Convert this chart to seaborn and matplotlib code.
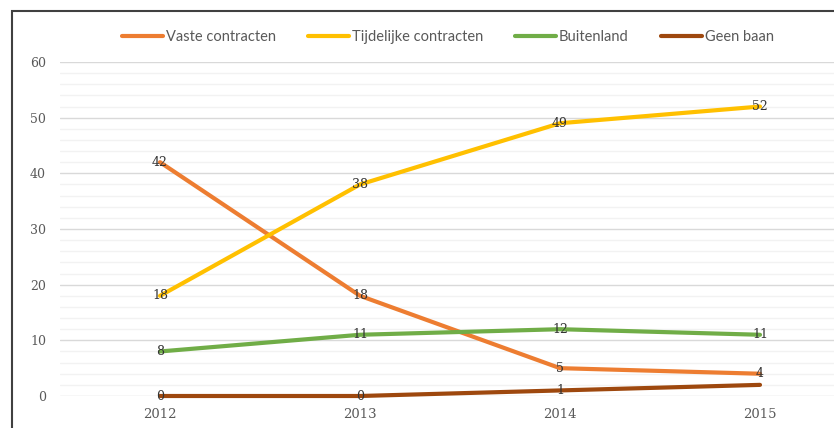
import matplotlib
matplotlib.use("Agg")
import matplotlib.pyplot as plt
import seaborn as sns
import pandas as pd
from matplotlib.patches import Rectangle

# Survey results per year (share of graduates, %)
years = ["2012", "2013", "2014", "2015"]
series_names = ["Vaste contracten", "Tijdelijke contracten", "Buitenland", "Geen baan"]
vaste = [42, 18, 5, 4]
tijdelijk = [18, 38, 49, 52]
buitenland = [8, 11, 12, 11]
geen_baan = [0, 0, 1, 2]
y_ticks = [0, 10, 20, 30, 40, 50, 60]

colors = ["#ED7D31", "#FFC000", "#70AD47", "#9E480E"]

# Which points carry a value label (the last "Geen baan" label sits under the "4")
show_label = [
    [True, True, True, True],
    [True, True, True, True],
    [True, True, True, True],
    [True, True, True, False],
]

sns.set_style("white")
plt.rcParams["font.family"] = ["Lato", "DejaVu Sans"]

series_values = [vaste, tijdelijk, buitenland, geen_baan]
rows = []
for name, vals in zip(series_names, series_values):
    for yr, v in zip(years, vals):
        rows.append({"jaar": yr, "waarde": v, "reeks": name})
df = pd.DataFrame(rows)

fig = plt.figure(figsize=(8.34, 4.28), dpi=100)
ax = fig.add_axes([60 / 834, 32 / 428, 800 / 834, 334 / 428])

sns.lineplot(data=df, x="jaar", y="waarde", hue="reeks", hue_order=series_names,
             palette=colors, linewidth=3, ax=ax, legend=True, sort=False)
for ln in ax.lines:
    ln.set_clip_on(False)
    ln.set_solid_capstyle("round")

# Value labels on each point
serif = ["DejaVu Serif"]
for vals, flags in zip(series_values, show_label):
    for i, (v, on) in enumerate(zip(vals, flags)):
        if on:
            ax.text(i, v, str(v), ha="center", va="center", fontsize=9,
                    color="#333333", family=serif, zorder=5)

ax.set_xlim(-0.5, 3.5)
ax.set_ylim(0, 60)
ax.set_yticks(y_ticks)
ax.set_yticks(range(0, 61, 2), minor=True)
ax.grid(which="major", axis="y", color="#d9d9d9", linewidth=1)
ax.grid(which="minor", axis="y", color="#f2f2f2", linewidth=1)
ax.grid(axis="x", visible=False)
ax.set_axisbelow(True)
ax.tick_params(axis="both", which="both", length=0)
ax.tick_params(axis="y", pad=10, labelsize=9, labelcolor="#595959")
ax.tick_params(axis="x", pad=9, labelsize=9.5, labelcolor="#595959")
for lab in ax.get_xticklabels() + ax.get_yticklabels():
    lab.set_family(serif)
ax.set_xlabel("")
ax.set_ylabel("")
for s in ax.spines.values():
    s.set_visible(False)

handles, labels = ax.get_legend_handles_labels()
ax.legend_.remove()
fig.legend(handles, labels, loc="center", bbox_to_anchor=(448 / 834, 1 - 37 / 428),
           ncol=4, frameon=False, fontsize=10.5, handlelength=2.8,
           handletextpad=0.2, columnspacing=2.2, labelcolor="#595959")

# Outer frame
fig.add_artist(Rectangle((12 / 834, -0.1), 1.0, 1.1 - 11 / 428, transform=fig.transFigure,
                         fill=False, edgecolor="#404040", linewidth=1.5))

fig.savefig("out.png", dpi=100)
